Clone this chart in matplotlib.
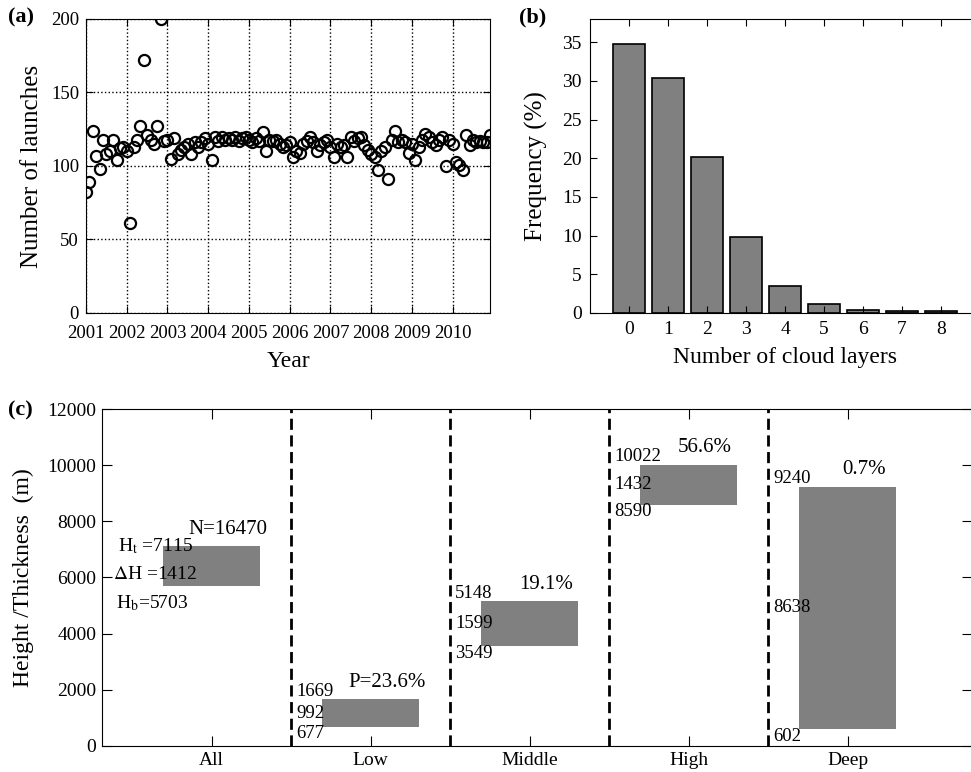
import matplotlib.pyplot as plt
import numpy as np

plt.rcParams['font.family'] = ['Liberation Serif', 'DejaVu Serif']
plt.rcParams['mathtext.fontset'] = 'stix'

# (a) monthly number of launches, Jan 2001 - Dec 2010
launches = [82, 89, 124, 107, 98, 118, 108, 110, 118, 104, 112, 113,
            110, 61, 113, 118, 127, 172, 121, 118, 115, 127, 200, 117,
            118, 105, 119, 108, 111, 113, 115, 108, 116, 113, 116, 119,
            115, 104, 120, 117, 120, 118, 119, 118, 120, 117, 119, 120,
            118, 116, 119, 117, 123, 110, 118, 117, 118, 115, 113, 114,
            116, 106, 110, 109, 115, 117, 120, 116, 110, 114, 116, 118,
            113, 106, 115, 113, 114, 106, 120, 117, 119, 120, 114, 111,
            108, 106, 97, 110, 113, 91, 118, 124, 116, 118, 116, 109,
            115, 104, 113, 118, 122, 120, 116, 114, 118, 120, 100, 118,
            115, 103, 101, 97, 121, 114, 118, 116, 117, 116, 116, 121]
years = list(range(2001, 2011))

# (b) frequency of number of cloud layers
n_layers = list(range(9))
freq = [34.8, 30.4, 20.2, 9.8, 3.5, 1.1, 0.4, 0.2, 0.2]

# (c) cloud base / top / thickness
cats = ['All', 'Low', 'Middle', 'High', 'Deep']
tops = [7115, 1669, 5148, 10022, 9240]
bases = [5703, 677, 3549, 8590, 602]
thick = [1412, 992, 1599, 1432, 8638]
pct = ['N=16470', 'P=23.6%', '19.1%', '56.6%', '0.7%']

fig = plt.figure(figsize=(9.71, 7.72), dpi=100)

# ---- (a)
ax1 = fig.add_axes([0.0886, 0.5946, 0.416, 0.3808])
months = np.arange(1, len(launches) + 1)
ax1.plot(months, launches, 'o', mfc='none', mec='k', ms=8, mew=1.6)
ax1.set_xlim(1, 120)
ax1.set_ylim(0, 200)
ax1.set_xticks([1 + 12 * i for i in range(len(years))])
ax1.set_xticklabels([str(y) for y in years])
ax1.set_yticks([0, 50, 100, 150, 200])
ax1.grid(True, linestyle=':', color='k', linewidth=1)
ax1.set_xlabel('Year', fontsize=17, labelpad=6)
ax1.set_ylabel('Number of launches', fontsize=18, labelpad=6)
ax1.tick_params(direction='in', top=True, right=True, labelsize=13.5, length=5)
ax1.tick_params(axis='x', pad=9)
ax1.tick_params(axis='y', pad=5)

# ---- (b)
ax2 = fig.add_axes([0.6076, 0.5946, 0.4017, 0.3808])
ax2.bar(n_layers, freq, width=0.8, color='#808080', edgecolor='k', linewidth=1.2)
ax2.set_xlim(-1, 9)
ax2.set_ylim(0, 38)
ax2.set_xticks(n_layers)
ax2.set_yticks(range(0, 36, 5))
ax2.set_xlabel('Number of cloud layers', fontsize=17, labelpad=6)
ax2.set_ylabel('Frequency (%)', fontsize=18, labelpad=10)
ax2.tick_params(direction='in', top=True, right=True, labelsize=14, length=5, pad=6)

# ---- (c)
ax3 = fig.add_axes([0.105, 0.0337, 0.896, 0.4365])
x = np.arange(1, len(cats) + 1)
ax3.bar(x, np.array(tops) - np.array(bases), bottom=bases, width=0.61,
        color='#808080', edgecolor='none')
for xv in x[:-1] + 0.5:
    ax3.plot([xv, xv], [0, 12000], color='k', lw=2, ls=(0, (4, 2)))
ax3.set_xlim(0.31, 5.78)
ax3.set_ylim(0, 12000)
ax3.set_xticks(x)
ax3.set_xticklabels(cats)
ax3.set_yticks(range(0, 12001, 2000))
ax3.set_ylabel('Height /Thickness  (m)', fontsize=17, labelpad=10)
ax3.tick_params(direction='in', top=True, right=True, labelsize=14, length=7, pad=4)

for i in range(len(cats)):
    xc = x[i]
    mid = (tops[i] + bases[i]) / 2
    ax3.text(xc + 0.1, tops[i] + 600, pct[i], ha='center', va='center', fontsize=15)
    if i == 0:
        ax3.text(xc - 0.59, tops[i], r'H$_\mathrm{t}$' + ' =%d' % tops[i],
                 ha='left', va='center', fontsize=14)
        ax3.text(xc - 0.62, mid - 300, r'$\Delta$H =%d' % thick[i],
                 ha='left', va='center', fontsize=14)
        ax3.text(xc - 0.6, bases[i] - 600, r'H$_\mathrm{b}$' + '=%d' % bases[i],
                 ha='left', va='center', fontsize=14)
    else:
        ax3.text(xc - 0.47, tops[i] + 280, str(tops[i]), ha='left', va='center', fontsize=13.5)
        ax3.text(xc - 0.47, mid, str(thick[i]), ha='left', va='center', fontsize=13.5)
        ax3.text(xc - 0.47, bases[i] - 250, str(bases[i]), ha='left', va='center', fontsize=13.5)

# panel labels
fig.text(0.008, 0.977, '(a)', fontsize=16, fontweight='bold', va='center')
fig.text(0.535, 0.977, '(b)', fontsize=16, fontweight='bold', va='center')
fig.text(0.008, 0.468, '(c)', fontsize=16, fontweight='bold', va='center')

fig.savefig('out.png', dpi=100)
